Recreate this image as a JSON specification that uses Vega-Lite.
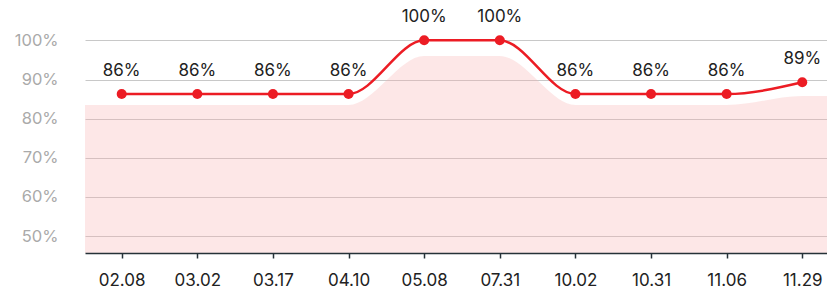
{
  "$schema": "https://vega.github.io/schema/vega-lite/v6.json",
  "autosize": {"type": "none"},
  "width": 742,
  "height": 253,
  "padding": {"left": 85, "top": 0, "right": 0, "bottom": 37},
  "background": "white",
  "config": {
    "view": {"stroke": null},
    "font": "Inter"
  },
  "datasets": {
    "line": [
      {"i": 0, "date": "02.08", "v": 0.863},
      {"i": 1, "date": "03.02", "v": 0.863},
      {"i": 2, "date": "03.17", "v": 0.863},
      {"i": 3, "date": "04.10", "v": 0.863},
      {"i": 4, "date": "05.08", "v": 1.0},
      {"i": 5, "date": "07.31", "v": 1.0},
      {"i": 6, "date": "10.02", "v": 0.863},
      {"i": 7, "date": "10.31", "v": 0.863},
      {"i": 8, "date": "11.06", "v": 0.863},
      {"i": 9, "date": "11.29", "v": 0.893}
    ],
    "shade": [
      {"i": -0.485, "v": 0.835},
      {"i": 0, "v": 0.835},
      {"i": 1, "v": 0.835},
      {"i": 2, "v": 0.835},
      {"i": 3, "v": 0.835},
      {"i": 4, "v": 0.96},
      {"i": 5, "v": 0.96},
      {"i": 6, "v": 0.835},
      {"i": 7, "v": 0.835},
      {"i": 8, "v": 0.835},
      {"i": 9, "v": 0.858},
      {"i": 9.327, "v": 0.858}
    ]
  },
  "layer": [
    {
      "data": {"name": "shade"},
      "mark": {"type": "area", "interpolate": "monotone", "color": "#f7b0b0", "opacity": 0.3, "clip": true},
      "encoding": {
        "x": {"field": "i", "type": "quantitative", "scale": {"domain": [-0.485, 9.327], "nice": false, "zero": false},
          "axis": {
            "values": [0,1,2,3,4,5,6,7,8,9],
            "labelExpr": "['02.08','03.02','03.17','04.10','05.08','07.31','10.02','10.31','11.06','11.29'][datum.value]",
            "title": null, "grid": false, "zindex": 1,
            "domainColor": "#263238", "domainWidth": 1.5,
            "tickColor": "#263238", "tickSize": 5, "tickWidth": 1.5,
            "labelFontSize": 17, "labelColor": "#222222", "labelPadding": 14
          }},
        "y": {"field": "v", "type": "quantitative", "scale": {"domain": [0.457, 1.103], "nice": false, "zero": false},
          "axis": {
            "values": [0.5, 0.6, 0.7, 0.8, 0.9, 1.0],
            "format": ".0%", "title": null, "zindex": 0,
            "domain": false, "ticks": false,
            "gridColor": "#c8c8c8", "gridWidth": 1,
            "labelFontSize": 16.5, "labelColor": "#aaaaaa", "labelPadding": 27
          }}
      }
    },
    {
      "data": {"name": "line"},
      "mark": {"type": "line", "interpolate": "monotone", "color": "#ec1c24", "strokeWidth": 2.5},
      "encoding": {
        "x": {"field": "i", "type": "quantitative"},
        "y": {"field": "v", "type": "quantitative"}
      }
    },
    {
      "data": {"name": "line"},
      "mark": {"type": "point", "filled": true, "opacity": 1, "color": "#ec1c24", "size": 100},
      "encoding": {
        "x": {"field": "i", "type": "quantitative"},
        "y": {"field": "v", "type": "quantitative"}
      }
    },
    {
      "data": {"name": "line"},
      "mark": {"type": "text", "fontSize": 17, "color": "#222222", "baseline": "middle", "dy": -23},
      "encoding": {
        "x": {"field": "i", "type": "quantitative"},
        "y": {"field": "v", "type": "quantitative"},
        "text": {"field": "v", "type": "quantitative", "format": ".0%"}
      }
    }
  ]
}
